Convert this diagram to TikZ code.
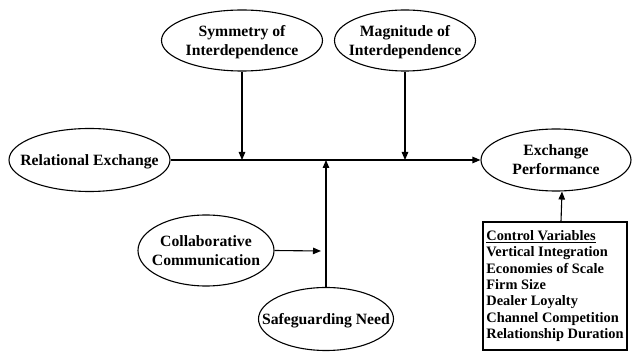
\documentclass[tikz,border=0pt]{standalone}
\usepackage{fontspec}
\setmainfont{Liberation Serif}
\usetikzlibrary{shapes.geometric,arrows.meta}
% label set at zero size, so the ellipse keeps its given width and height
\newcommand{\ellipselabel}[1]{\smash{\makebox[0pt]{\raisebox{-5.3pt}{\begin{tabular}{@{}c@{}}#1\end{tabular}}}}}
\begin{document}
\begin{tikzpicture}[x=1pt,y=1pt,
  every node/.style={font=\bfseries\fontsize{15.7}{19}\selectfont},
  var/.style={draw,ellipse,line width=1.1pt,inner sep=0pt},
  ctrlbox/.style={draw,rectangle,line width=1.1pt,align=left,inner sep=0pt,
    minimum width=144pt,minimum height=128pt,font=\bfseries\fontsize{14.4}{16.4}\selectfont},
  link/.style={line width=1.1pt,-{Triangle[length=8pt,width=6.5pt]}}]
\useasboundingbox (0,0) rectangle (632,-352);

% constructs
\node[var,minimum width=161pt,minimum height=63pt] (rel) at (89.5,-160) {\ellipselabel{Relational Exchange}};
\node[var,minimum width=161pt,minimum height=61pt] (sym) at (242,-40.5) {\ellipselabel{Symmetry of\\Interdependence}};
\node[var,minimum width=141pt,minimum height=61pt] (mag) at (405,-40.5) {\ellipselabel{Magnitude of\\Interdependence}};
\node[var,minimum width=150pt,minimum height=62pt] (ep) at (556,-160) {\ellipselabel{Exchange\\Performance}};
\node[var,minimum width=136pt,minimum height=71pt] (col) at (206,-250.5) {\ellipselabel{Collaborative\\Communication}};
\node[var,minimum width=135pt,minimum height=63pt] (safe) at (326,-319) {\ellipselabel{Safeguarding Need}};

% control variables
\node[ctrlbox] (ctrl) at (555,-286) {\underline{Control Variables}\\Vertical Integration\\Economies of Scale\\Firm Size\\Dealer Loyalty\\Channel Competition\\Relationship Duration};

% points on the main path where moderators meet it
\coordinate (m1) at (sym.south |- rel.east);
\coordinate (m2) at (mag.south |- rel.east);
\coordinate (m3) at (safe.north |- rel.east);
\coordinate (c1) at (321,-251);

% connectors
\draw[link] (rel.east) -- (ep.west);
\draw[link] (sym.south) -- (m1);
\draw[link] (mag.south) -- (m2);
\draw[link] (safe.north) -- (m3);
\draw[link] (col.east) -- (c1);
\draw[link] ([xshift=6pt]ctrl.north) -- ([xshift=6pt]ep.south);
\end{tikzpicture}
\end{document}
